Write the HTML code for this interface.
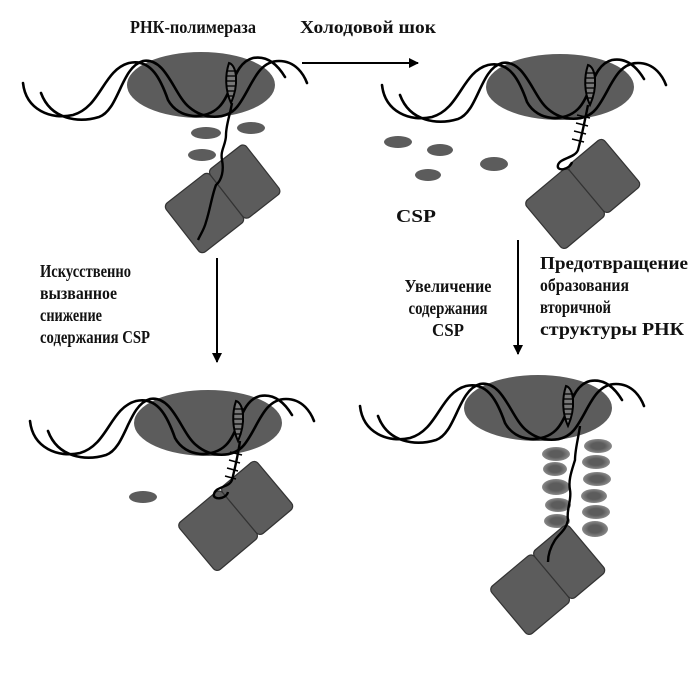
<!DOCTYPE html>
<html><head><meta charset="utf-8"><style>
html,body{margin:0;padding:0;background:#fff;}
svg{display:block;}
text{font-family:"Liberation Serif",serif;font-weight:bold;font-size:18px;fill:#111;}
</style></head><body>
<svg width="700" height="700" viewBox="0 0 700 700" xmlns="http://www.w3.org/2000/svg">
<defs>
<g id="dna">
  <ellipse cx="0" cy="0" rx="74" ry="33" fill="#5c5c5c"/>
  <g fill="none" stroke="#000" stroke-width="2.6" stroke-linecap="round">
    <path d="M-178,-2 C-175,25 -150,35 -128,30 C-100,22 -98,-15 -72,-22 C-50,-27 -40,-5 -33,15 C-22,35 5,35 18,22 C32,8 32,-22 52,-27 C68,-30 78,-18 84,-8"/>
    <path d="M-160,8 C-150,35 -122,38 -102,32 C-82,25 -80,-18 -58,-24 C-35,-28 -27,10 -12,22 C3,35 25,35 36,22 C50,5 55,-24 78,-24 C95,-24 103,-10 106,-2"/>
  </g>
  <path d="M28,-22 C36,-20 38,0 30,18 C24,5 24,-10 28,-22 Z" fill="#777" stroke="#000" stroke-width="2"/>
  <g stroke="#000" stroke-width="1.3">
    <line x1="26" y1="-14" x2="36" y2="-14"/><line x1="25" y1="-9" x2="36" y2="-9"/>
    <line x1="25" y1="-4" x2="35" y2="-4"/><line x1="25" y1="1" x2="34" y2="1"/>
    <line x1="26" y1="6" x2="33" y2="6"/><line x1="27" y1="11" x2="32" y2="11"/>
  </g>
</g>
<g id="ribo">
  <rect x="-54" y="-31" width="56" height="62" rx="5" fill="#5c5c5c" stroke="#333" stroke-width="1.2"/>
  <rect x="2" y="-31" width="46" height="62" rx="5" fill="#5c5c5c" stroke="#333" stroke-width="1.2"/>
</g>
<marker id="ah" markerWidth="10" markerHeight="14" refX="9" refY="5" orient="auto" markerUnits="userSpaceOnUse">
  <path d="M0,0 L10,5 L0,10 Z" fill="#000"/>
</marker>
<radialGradient id="csp" cx="0.5" cy="0.5" r="0.5">
  <stop offset="0.5" stop-color="#5c5c5c"/><stop offset="1" stop-color="#8a8a8a"/>
</radialGradient>
</defs>

<text x="130" y="33" textLength="126" lengthAdjust="spacingAndGlyphs">РНК-полимераза</text>
<text x="300" y="33" textLength="136" lengthAdjust="spacingAndGlyphs">Холодовой шок</text>
<line x1="302" y1="63" x2="418" y2="63" stroke="#000" stroke-width="2" marker-end="url(#ah)"/>

<!-- Panel 1 -->
<ellipse cx="206" cy="133" rx="15" ry="6" fill="#5c5c5c"/>
<ellipse cx="251" cy="128" rx="14" ry="6" fill="#5c5c5c"/>
<ellipse cx="202" cy="155" rx="14" ry="6" fill="#5c5c5c"/>
<g transform="translate(225,197) rotate(-38)"><use href="#ribo"/></g>
<use href="#dna" transform="translate(201,85)"/>
<path d="M232,103 C230,115 226,125 226,135 C226,145 220,150 222,160 C224,170 222,180 216,185 C212,195 210,210 206,222 C204,230 200,235 198,240" fill="none" stroke="#000" stroke-width="2.4"/>

<!-- Panel 2 -->
<ellipse cx="398" cy="142" rx="14" ry="6" fill="#5c5c5c"/>
<ellipse cx="440" cy="150" rx="13" ry="6" fill="#5c5c5c"/>
<ellipse cx="494" cy="164" rx="14" ry="7" fill="#5c5c5c"/>
<ellipse cx="428" cy="175" rx="13" ry="6" fill="#5c5c5c"/>
<text x="396" y="222" textLength="40" lengthAdjust="spacingAndGlyphs">CSP</text>
<g transform="translate(585,192) rotate(-40)"><use href="#ribo"/></g>
<use href="#dna" transform="translate(560,87)"/>
<path d="M588,105 C585,120 582,135 578,150 C575,158 560,158 558,165 C556,172 570,170 572,162" fill="none" stroke="#000" stroke-width="2.4"/>
<g stroke="#000" stroke-width="1.5"><line x1="577" y1="115" x2="590" y2="118"/><line x1="576" y1="123" x2="588" y2="126"/><line x1="574" y1="131" x2="586" y2="134"/><line x1="572" y1="139" x2="584" y2="142"/></g>

<line x1="217" y1="258" x2="217" y2="362" stroke="#000" stroke-width="2" marker-end="url(#ah)"/>
<line x1="518" y1="240" x2="518" y2="354" stroke="#000" stroke-width="2" marker-end="url(#ah)"/>
<text x="40" y="277" textLength="91" lengthAdjust="spacingAndGlyphs">Искусственно</text>
<text x="40" y="299" textLength="77" lengthAdjust="spacingAndGlyphs">вызванное</text>
<text x="40" y="321" textLength="62" lengthAdjust="spacingAndGlyphs">снижение</text>
<text x="40" y="343" textLength="110" lengthAdjust="spacingAndGlyphs">содержания CSP</text>
<text x="448" y="292" text-anchor="middle" textLength="87" lengthAdjust="spacingAndGlyphs">Увеличение</text>
<text x="448" y="314" text-anchor="middle" textLength="79" lengthAdjust="spacingAndGlyphs">содержания</text>
<text x="448" y="336" text-anchor="middle" textLength="32" lengthAdjust="spacingAndGlyphs">CSP</text>
<text x="540" y="269" textLength="148" lengthAdjust="spacingAndGlyphs">Предотвращение</text>
<text x="540" y="291" textLength="89" lengthAdjust="spacingAndGlyphs">образования</text>
<text x="540" y="313" textLength="71" lengthAdjust="spacingAndGlyphs">вторичной</text>
<text x="540" y="335" textLength="144" lengthAdjust="spacingAndGlyphs">структуры РНК</text>

<!-- Panel 3 -->
<ellipse cx="143" cy="497" rx="14" ry="6" fill="#5c5c5c"/>
<g transform="translate(238,514) rotate(-40)"><use href="#ribo"/></g>
<use href="#dna" transform="translate(208,423)"/>
<path d="M240,441 C238,455 235,468 232,480 C229,488 216,486 214,494 C212,500 226,500 228,492" fill="none" stroke="#000" stroke-width="2.4"/>
<g stroke="#000" stroke-width="1.5"><line x1="230" y1="452" x2="242" y2="455"/><line x1="229" y1="460" x2="240" y2="463"/><line x1="227" y1="468" x2="238" y2="471"/><line x1="225" y1="476" x2="236" y2="479"/></g>

<!-- Panel 4 -->
<g fill="url(#csp)">
<ellipse cx="556" cy="454" rx="14" ry="7"/><ellipse cx="598" cy="446" rx="14" ry="7"/>
<ellipse cx="555" cy="469" rx="12" ry="7"/><ellipse cx="596" cy="462" rx="14" ry="7"/>
<ellipse cx="556" cy="487" rx="14" ry="8"/><ellipse cx="597" cy="479" rx="14" ry="7"/>
<ellipse cx="558" cy="505" rx="13" ry="7"/><ellipse cx="594" cy="496" rx="13" ry="7"/>
<ellipse cx="557" cy="521" rx="13" ry="7"/><ellipse cx="596" cy="512" rx="14" ry="7"/>
<ellipse cx="595" cy="529" rx="13" ry="8"/>
</g>
<g transform="translate(550,578) rotate(-40)"><use href="#ribo"/></g>
<use href="#dna" transform="translate(538,408)"/>
<path d="M580,426 C578,440 575,450 575,460 C572,470 568,480 570,490 C572,500 566,510 568,520 C566,530 560,533 555,540 C550,548 548,555 548,562" fill="none" stroke="#000" stroke-width="2.4"/>
</svg>
</body></html>
